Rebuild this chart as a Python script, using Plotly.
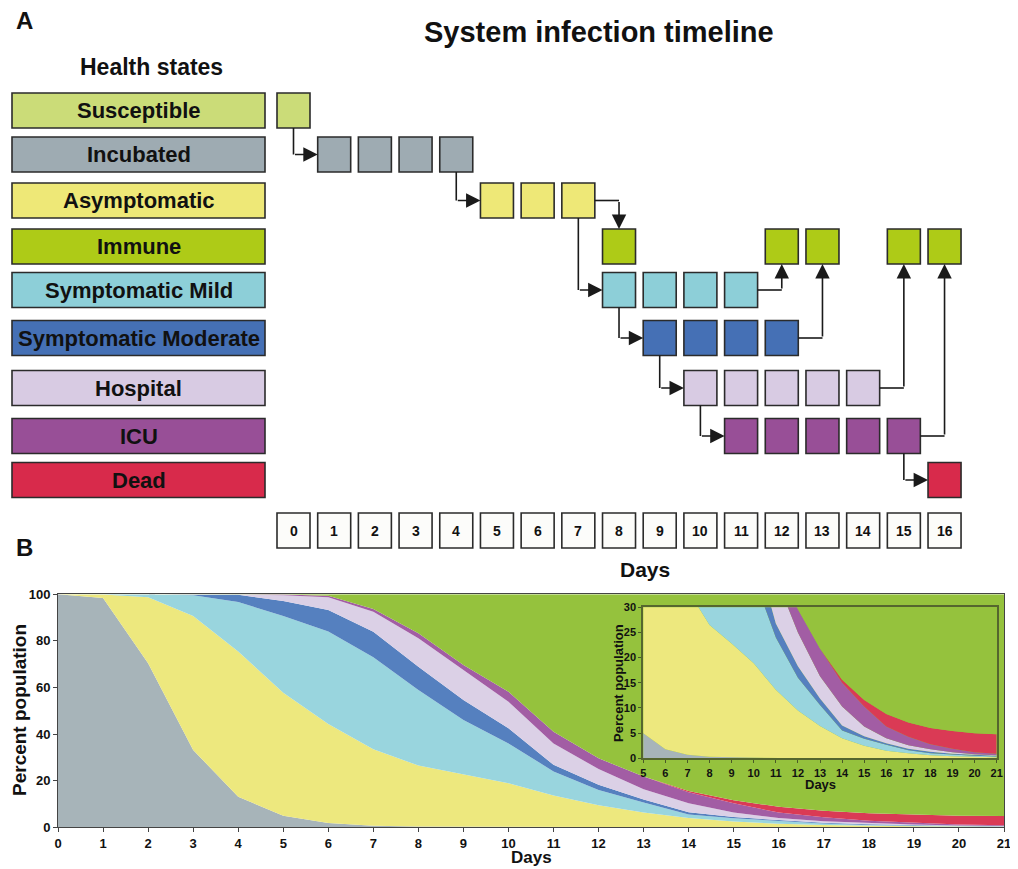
import plotly.graph_objects as go

# ---------------- Panel B data (percent of population per day) ----------------
days = list(range(22))
incubated    = [100, 98.4, 70.4, 33.2, 13.1, 5.0, 1.8, 0.7, 0.3, 0.2, 0.1, 0, 0, 0, 0, 0, 0, 0, 0, 0, 0, 0]
asymptomatic = [0, 1.5, 28.3, 57.5, 62.3, 52.8, 42.5, 32.8, 26.2, 22.6, 18.8, 13.6, 9.5, 6.4, 4.0, 2.5, 1.5, 1.0, 0.6, 0.4, 0.3, 0.2]
mild         = [0, 0.1, 1.2, 8.9, 21.3, 32.9, 39.7, 39.5, 32.4, 23.2, 17.1, 10.4, 6.5, 4.2, 1.5, 1.4, 1.2, 0.6, 0.4, 0.3, 0.2, 0.15]
moderate     = [0, 0, 0.1, 0.3, 3.1, 6.4, 9.3, 10.9, 10.0, 8.6, 6.5, 2.8, 2.3, 1.3, 1.0, 0.5, 0.3, 0.3, 0.3, 0.2, 0.15, 0.15]
hospital     = [0, 0, 0, 0.1, 0.1, 2.5, 5.4, 8.6, 12.2, 12.9, 11.4, 9.2, 6.7, 4.4, 3.8, 1.9, 1.0, 0.7, 0.5, 0.3, 0.15, 0.1]
icu          = [0, 0, 0, 0, 0.1, 0.3, 0.7, 1.2, 2.2, 2.2, 4.3, 5.0, 4.6, 5.5, 4.7, 4.0, 2.3, 1.7, 1.0, 0.7, 0.4, 0.3]
dead         = [0, 0, 0, 0, 0, 0, 0, 0, 0, 0, 0, 0, 0, 0, 0.6, 1.3, 2.5, 2.8, 3.2, 3.5, 3.8, 3.9]
immune       = [0, 0, 0, 0, 0, 0.1, 0.6, 6.3, 16.7, 30.3, 41.8, 59.0, 70.4, 78.2, 84.4, 88.4, 91.2, 92.9, 94.0, 94.6, 95.0, 95.2]

area_series = [
    ("Incubated", incubated, "#A7B4B9"),
    ("Asymptomatic", asymptomatic, "#EDE87E"),
    ("Symptomatic Mild", mild, "#99D5DE"),
    ("Symptomatic Moderate", moderate, "#5580BF"),
    ("Hospital", hospital, "#DBD0E6"),
    ("ICU", icu, "#A25DA4"),
    ("Dead", dead, "#DA3A55"),
    ("Immune", immune, "#95C23D"),
]

# ---------------- Panel A data (timeline diagram) ----------------
state_names = ["Susceptible", "Incubated", "Asymptomatic", "Immune", "Symptomatic Mild",
               "Symptomatic Moderate", "Hospital", "ICU", "Dead"]
state_colors = ["#CBDC78", "#9EABB2", "#EEE877", "#AECB17", "#8DCFD8",
                "#4570B5", "#D8CBE3", "#984F97", "#D82A4B"]
timeline_days = {
    "Susceptible": [0],
    "Incubated": [1, 2, 3, 4],
    "Asymptomatic": [5, 6, 7],
    "Immune": [8, 12, 13, 15, 16],
    "Symptomatic Mild": [8, 9, 10, 11],
    "Symptomatic Moderate": [9, 10, 11, 12],
    "Hospital": [10, 11, 12, 13, 14],
    "ICU": [11, 12, 13, 14, 15],
    "Dead": [16],
}
day_labels = [str(d) for d in range(17)]
# transitions: (from state, from day, to state, to day, route)
transitions = [
    ("Susceptible", 0, "Incubated", 1, "down-right"),
    ("Incubated", 4, "Asymptomatic", 5, "down-right"),
    ("Asymptomatic", 7, "Immune", 8, "right-down"),
    ("Asymptomatic", 7, "Symptomatic Mild", 8, "down-right"),
    ("Symptomatic Mild", 8, "Symptomatic Moderate", 9, "down-right"),
    ("Symptomatic Moderate", 9, "Hospital", 10, "down-right"),
    ("Hospital", 10, "ICU", 11, "down-right"),
    ("ICU", 15, "Dead", 16, "down-right"),
    ("Symptomatic Mild", 11, "Immune", 12, "right-up"),
    ("Symptomatic Moderate", 12, "Immune", 13, "right-up"),
    ("Hospital", 14, "Immune", 15, "right-up"),
    ("ICU", 15, "Immune", 16, "right-up"),
]

# ---------------- layout constants ----------------
PAGE_W, PAGE_H, BODY = 1018, 869, 8      # window size and page body margin
W, H = PAGE_W - BODY, PAGE_H - BODY      # figure size so it fits the window exactly
FONT = "Liberation Sans, Arial, Helvetica, sans-serif"

def fx(px):  # window pixel -> paper x
    return (px - BODY) / W

def fy(py):  # window pixel -> paper y
    return 1 - (py - BODY) / H

DAY_PX0, DAY_PITCH = 293.5, 40.69      # pixel centre of day 0, pixel per day
# vertical layout of the diagram rows (window pixels; last one = day-number row)
ROW_CENTERS = [110.5, 154.5, 200.5, 246.5, 290, 338, 388, 436, 480, 530.5]
HW = 33 / DAY_PITCH / 2                 # half box width (day units)
HH = 17.5                               # half box height (pixels)
LABEL_X0 = (12 - DAY_PX0) / DAY_PITCH
LABEL_X1 = (265 - DAY_PX0) / DAY_PITCH

fig = go.Figure()

# ---------------- Panel B: main stacked area ----------------
for name, vals, col in area_series:
    fig.add_trace(go.Scatter(x=days, y=vals, name=name, stackgroup="main",
                             mode="lines", line=dict(width=0, color=col),
                             fillcolor=col, xaxis="x", yaxis="y", hoverinfo="skip"))
# inset
for name, vals, col in area_series:
    fig.add_trace(go.Scatter(x=days, y=vals, name=name, stackgroup="inset",
                             mode="lines", line=dict(width=0, color=col),
                             fillcolor=col, xaxis="x2", yaxis="y2", hoverinfo="skip",
                             showlegend=False))

# ---------------- Panel A: diagram ----------------
shapes = []
annotations = []
row_of = {s: ROW_CENTERS[i] for i, s in enumerate(state_names)}
day_row = ROW_CENTERS[-1]

def box(x, y, color, x0=None, x1=None):
    shapes.append(dict(type="rect", xref="x3", yref="y3",
                       x0=x - HW if x0 is None else x0, x1=x + HW if x1 is None else x1,
                       y0=y - HH, y1=y + HH, fillcolor=color,
                       line=dict(color="#2b2b2b", width=1.6), layer="above"))

def txt(x, y, text, size, xref="paper", yref="paper", angle=0):
    annotations.append(dict(x=x, y=y, xref=xref, yref=yref, text=text, showarrow=False,
                            xanchor="center", yanchor="middle", textangle=angle,
                            font=dict(family=FONT, size=size, color="#111", weight="bold")))

for s, c in zip(state_names, state_colors):
    r = row_of[s]
    box(0, r, c, LABEL_X0, LABEL_X1)
    txt((LABEL_X0 + LABEL_X1) / 2, r, s, 22, "x3", "y3")
    for d in timeline_days[s]:
        box(d, r, c)

for d, lab in enumerate(day_labels):
    box(d, day_row, "#FCFCFA")
    txt(d, day_row, lab, 14, "x3", "y3")

for s_from, d_from, s_to, d_to, route in transitions:
    r0, r1 = row_of[s_from], row_of[s_to]
    if route == "down-right":
        p0, p1, p2 = (d_from, r0 + HH), (d_from, r1), (d_to - HW, r1)
    elif route == "right-down":
        p0, p1, p2 = (d_from + HW, r0), (d_to, r0), (d_to, r1 - HH)
    else:
        p0, p1, p2 = (d_from + HW, r0), (d_to, r0), (d_to, r1 + HH)
    shapes.append(dict(type="path", xref="x3", yref="y3",
                       path=f"M {p0[0]},{p0[1]} L {p1[0]},{p1[1]}",
                       line=dict(color="#1a1a1a", width=1.6), layer="above"))
    annotations.append(dict(x=p2[0], y=p2[1], ax=p1[0], ay=p1[1], xref="x3", yref="y3",
                            axref="x3", ayref="y3", text="", showarrow=True,
                            arrowhead=2, arrowsize=1.8, arrowwidth=1.6, arrowcolor="#1a1a1a",
                            standoff=0))

# ---------------- Texts ----------------
txt(fx(24), fy(21), "A", 24)
txt(fx(24), fy(547), "B", 24)
txt(fx(599), fy(32), "System infection timeline", 29)
txt(fx(151), fy(67), "Health states", 23)
txt(fx(645), fy(569), "Days", 21)
txt(fx(19), fy(710), "Percent population", 19, angle=-90)
txt(fx(531), fy(857), "Days", 17)
txt(fx(618), fy(683), "Percent population", 13, angle=-90)
txt(fx(820), fy(784), "Days", 13)

tick_main = dict(family=FONT, size=13, color="#111", weight="bold")
tick_inset = dict(family=FONT, size=11, color="#111", weight="bold")

fig.update_layout(
    template="none",
    width=W, height=H, margin=dict(l=0, r=0, t=0, b=0, pad=0, autoexpand=False),
    paper_bgcolor="white", plot_bgcolor="rgba(0,0,0,0)", showlegend=False,
    shapes=shapes, annotations=annotations,
    xaxis=dict(domain=[fx(58), fx(1004)], range=[0, 21], tickvals=days, ticks="outside",
               ticklen=4, tickcolor="#444", showline=True, mirror=True, linecolor="#444",
               linewidth=1, showgrid=False, zeroline=False, tickfont=tick_main, anchor="y",
               automargin=False),
    yaxis=dict(domain=[fy(827.3), fy(594.3)], range=[0, 100],
               tickvals=[0, 20, 40, 60, 80, 100], ticks="outside", ticklen=4, tickcolor="#444",
               showline=True, mirror=True, linecolor="#444", linewidth=1, showgrid=False,
               zeroline=False, tickfont=tick_main, anchor="x", automargin=False),
    xaxis2=dict(domain=[fx(643.3), fx(996.7)], range=[5, 21], tickvals=list(range(5, 22)),
                ticks="outside", ticklen=3, tickcolor="#4a5a28", showline=True, mirror=True,
                linecolor="#55662e", linewidth=2, showgrid=False, zeroline=False,
                tickfont=tick_inset, anchor="y2", automargin=False),
    yaxis2=dict(domain=[fy(758.3), fy(607.3)], range=[0, 30],
                tickvals=[0, 5, 10, 15, 20, 25, 30], ticks="outside", ticklen=3,
                tickcolor="#4a5a28", showline=True, mirror=True, linecolor="#55662e",
                linewidth=2, showgrid=False, zeroline=False, tickfont=tick_inset, anchor="x2",
                automargin=False),
    xaxis3=dict(domain=[0, 1], range=[(BODY - DAY_PX0) / DAY_PITCH, (PAGE_W - DAY_PX0) / DAY_PITCH],
                visible=False, anchor="y3", fixedrange=True, automargin=False),
    yaxis3=dict(domain=[0, 1], range=[PAGE_H, BODY],
                visible=False, anchor="x3", fixedrange=True, automargin=False),
)

# invisible trace to register the diagram axes
fig.add_trace(go.Scatter(x=[0], y=[600], xaxis="x3", yaxis="y3", mode="markers",
                         marker=dict(opacity=0), hoverinfo="skip", showlegend=False))

fig.write_html("out.html")
